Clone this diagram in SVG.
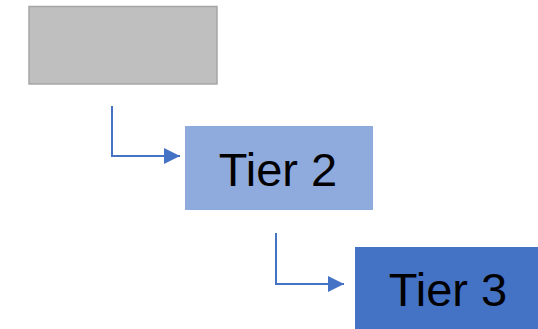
<svg xmlns="http://www.w3.org/2000/svg" width="538" height="329" viewBox="0 0 538 329">
<style>
.lbl{font-family:"Liberation Sans",Arial,sans-serif;font-size:47px;fill:#000;text-anchor:middle}
.conn{fill:none;stroke:#4472c4;stroke-width:2}
</style>
<defs>
<marker id="arr" markerWidth="8" markerHeight="8" refX="8" refY="4" orient="auto" markerUnits="strokeWidth">
<path d="M0,0 L8,4 L0,8 Z" fill="#4472c4"/>
</marker>
</defs>
<rect width="538" height="329" fill="#fff"/>
<g id="node-tier1">
<rect x="29" y="6.5" width="188" height="77.5" fill="#bfbfbf" stroke="#a6a6a6" stroke-width="1.5"/>
</g>
<g id="node-tier2">
<rect x="185" y="126" width="188" height="84" fill="#8faadc"/>
<text class="lbl" x="278" y="186">Tier 2</text>
</g>
<g id="node-tier3">
<rect x="355" y="247" width="190" height="82" fill="#4472c4"/>
<text class="lbl" x="448" y="306">Tier 3</text>
</g>
<g id="connectors">
<path class="conn" d="M112,106 V156 H180" marker-end="url(#arr)"/>
<path class="conn" d="M276,233 V284 H344" marker-end="url(#arr)"/>
</g>
</svg>
